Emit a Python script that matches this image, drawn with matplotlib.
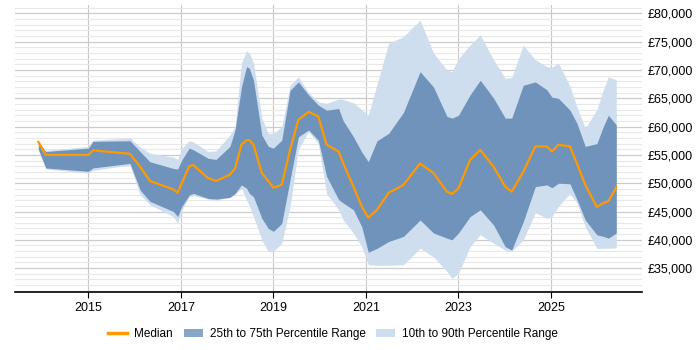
import numpy as np
import matplotlib
matplotlib.use("Agg")
import matplotlib.pyplot as plt
from matplotlib.patches import Patch
from matplotlib.lines import Line2D
from matplotlib.ticker import MultipleLocator, FuncFormatter

plt.rcParams['font.family'] = ['Liberation Sans', 'DejaVu Sans']

# fractional years
years = [2013.92, 2014.08, 2015.00, 2015.10, 2015.90, 2016.12, 2016.33, 2016.84,
         2016.93, 2017.02, 2017.18, 2017.27, 2017.59, 2017.76, 2018.06, 2018.17,
         2018.31, 2018.42, 2018.48, 2018.57, 2018.75, 2018.89, 2019.00, 2019.18,
         2019.36, 2019.54, 2019.76, 2019.97, 2020.15, 2020.41, 2020.51, 2020.73,
         2020.91, 2021.05, 2021.24, 2021.49, 2021.81, 2022.17, 2022.46, 2022.75,
         2022.86, 2023.00, 2023.25, 2023.47, 2023.76, 2024.01, 2024.15, 2024.40,
         2024.66, 2024.91, 2025.02, 2025.16, 2025.41, 2025.56, 2025.74, 2025.99,
         2026.13, 2026.24, 2026.41]

median = [57300, 55000, 55000, 55800, 55200, 52900, 50400, 48900,
          48300, 50000, 53000, 53200, 50900, 50400, 51500, 52600,
          56800, 57600, 57600, 56800, 51800, 50400, 49200, 49700,
          55900, 61200, 62600, 61800, 56800, 55600, 53500, 49400,
          45900, 43900, 45300, 48300, 49700, 53500, 51800, 48500,
          48100, 49100, 54100, 55900, 52900, 49400, 48500, 52000,
          56500, 56500, 55600, 56800, 56500, 53500, 49700, 45800,
          46500, 46800, 49300]

p25 = [56000, 52700, 52100, 52700, 53500, 48800, 46800, 45000,
       44100, 45900, 47900, 48200, 47300, 47200, 47500, 48200,
       49700, 49100, 48200, 47600, 43800, 42000, 41500, 42900,
       50600, 58200, 59400, 57600, 51200, 47100, 46500, 45300,
       42300, 37800, 38500, 39700, 40600, 43500, 41200, 40300,
       40000, 41200, 44100, 45300, 42600, 38800, 38200, 43200,
       49400, 49700, 49200, 50000, 49900, 47100, 43500, 40900,
       40600, 40300, 41200]

p75 = [57300, 55600, 56200, 57400, 57500, 55600, 53800, 52600,
       52500, 54100, 56200, 55900, 54400, 54200, 56500, 59400,
       67000, 70600, 70300, 68200, 58500, 56500, 56200, 57600,
       66400, 67900, 65600, 63800, 62900, 63200, 61000, 58200,
       55500, 53800, 57500, 58800, 62500, 69700, 67000, 61800,
       61500, 62000, 65600, 68200, 65000, 61500, 61500, 67300,
       67900, 66500, 65200, 65000, 62900, 60600, 56500, 57000,
       60000, 62000, 60300]

p10 = [55800, 52500, 51800, 52300, 53200, 48000, 46200, 44100,
       42900, 45200, 47600, 47800, 47200, 47000, 47500, 48000,
       49100, 47000, 46000, 44100, 40000, 37900, 37900, 39400,
       45900, 56000, 59100, 57000, 48200, 45300, 43500, 41200,
       38800, 35600, 35500, 35500, 35600, 38500, 37000, 34400,
       33200, 34100, 38800, 40900, 39400, 38200, 38000, 40000,
       44800, 43800, 44100, 45900, 48200, 46500, 42300, 38500,
       38500, 38500, 38600]

p90 = [57400, 55800, 56500, 57600, 58000, 56400, 55300, 54600,
       54200, 56200, 57500, 57300, 55600, 55700, 58500, 60000,
       71200, 73400, 73000, 71200, 61500, 58800, 58800, 60000,
       67300, 68800, 66000, 64400, 64100, 64900, 64800, 64200,
       63000, 62000, 67500, 74700, 75900, 78800, 73000, 70000,
       69700, 72000, 74400, 76200, 71800, 68500, 68700, 74400,
       71800, 70600, 70500, 71200, 67100, 63500, 59700, 63000,
       66500, 68800, 68300]

year_ticks = [2015, 2017, 2019, 2021, 2023, 2025]

orange = '#ff9900'
dark = '#6f93bb'
light = '#cedeee'

fig = plt.figure(figsize=(7, 3.5), dpi=100)
ax = fig.add_axes([0.0214, 0.166, 0.896, 0.82])

ax.fill_between(years, p10, p90, color=light, lw=0)
ax.fill_between(years, p25, p75, color=dark, lw=0)
ax.plot(years, median, color=orange, lw=1.6)

ax.set_xlim(2013.415, 2026.97)
ax.set_ylim(30800, 81500)

ax.yaxis.set_major_locator(MultipleLocator(5000))
ax.yaxis.set_minor_locator(MultipleLocator(1000))
ax.yaxis.set_major_formatter(FuncFormatter(lambda v, p: '£{:,.0f}'.format(v)))
ax.yaxis.tick_right()
ax.set_xticks(year_ticks)
ax.set_xticklabels([str(y) for y in year_ticks])

ax.grid(axis='y', which='major', color='#cccccc', lw=0.9)
ax.grid(axis='y', which='minor', color='#e8e8e8', lw=0.8)
ax.grid(axis='x', which='major', color='#c8c8c8', lw=0.8)
ax.set_axisbelow(True)

for s in ['top', 'left', 'right']:
    ax.spines[s].set_visible(False)
ax.spines['bottom'].set_color('black')
ax.spines['bottom'].set_linewidth(1.2)

ax.tick_params(axis='y', which='both', length=0, labelsize=9, pad=4)
ax.tick_params(axis='x', which='major', length=4, labelsize=9, color='black')

handles = [Line2D([0], [0], color=orange, lw=2.5),
           Patch(facecolor='#86a5c8', edgecolor='none'),
           Patch(facecolor=light, edgecolor='none')]
labels = ['Median', '25th to 75th Percentile Range', '10th to 90th Percentile Range']
fig.legend(handles, labels, loc='center', bbox_to_anchor=(0.476, 0.045), ncol=3,
           frameon=False, fontsize=8.5, handlelength=1.6, columnspacing=0.9,
           handletextpad=0.6)

fig.savefig('out.png', dpi=100)
